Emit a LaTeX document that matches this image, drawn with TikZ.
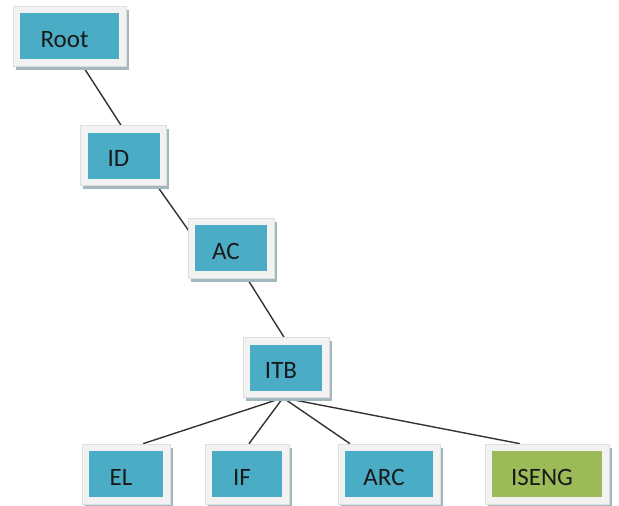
\documentclass[tikz,border=0pt]{standalone}
\usepackage{fontspec}
\setmainfont{Carlito}
\usetikzlibrary{backgrounds,shadows}
\definecolor{tealC}{HTML}{4BACC6}
\definecolor{greenC}{HTML}{9BBB59}
\definecolor{frameC}{HTML}{F2F2F2}
\definecolor{frameEdge}{HTML}{DEDEDE}
\definecolor{shadeC}{HTML}{A3B7BE}
\definecolor{connC}{HTML}{333333}
\definecolor{txtC}{HTML}{1A1A1A}
\tikzset{
  box/.style={rectangle, minimum height=60pt, inner sep=0pt,
    fill=frameC, draw=frameEdge, line width=0.6pt,
    font=\fontsize{25}{25}\selectfont, text=txtC,
    text height=22pt, text depth=0pt,
    drop shadow={shadow xshift=2.5pt, shadow yshift=-3.5pt, fill=shadeC, opacity=1},
    path picture={\fill[#1] ([shift={(7pt,7pt)}]path picture bounding box.south west) rectangle ([shift={(-7pt,-7pt)}]path picture bounding box.north east);},
    execute at end node={\kern10pt}},
  box/.default=tealC,
  link/.style={draw=connC, line width=1.4pt}
}
\begin{document}
\begin{tikzpicture}[x=1pt,y=-1pt]
\useasboundingbox (0,0) rectangle (619,506);
\node[box, minimum width=113pt] (root) at (69.5,36) {Root};
\node[box, minimum width=86pt] (id) at (123.5,155.5) {ID};
\node[box, minimum width=86pt] (ac) at (231,248) {AC};
\node[box, minimum width=86pt] (itb) at (286,367.5) {ITB};
\node[box, minimum width=88pt] (el) at (126,474) {EL};
\node[box, minimum width=84pt] (nif) at (247,474) {IF};
\node[box, minimum width=102pt] (arc) at (389,474) {ARC};
\node[box=greenC, minimum width=124pt] (iseng) at (547,474) {ISENG};
\begin{scope}[on background layer]
\draw[link] ([xshift=13.5pt]root.south) -- ([xshift=-2.5pt]id.north);
\draw[link] ([xshift=33.5pt]id.south) -- ([xshift=-30pt]ac.center);
\draw[link] ([xshift=16pt]ac.south) -- ([xshift=-2pt]itb.north);
\draw[link] ([xshift=-3pt]itb.south) -- ([xshift=17pt]el.north);
\draw[link] ([xshift=-3pt]itb.south) -- ([xshift=2pt]nif.north);
\draw[link] ([xshift=-3pt]itb.south) -- ([xshift=-39pt]arc.north);
\draw[link] ([xshift=-3pt]itb.south) -- ([xshift=-27pt]iseng.north);
\end{scope}
\end{tikzpicture}
\end{document}
